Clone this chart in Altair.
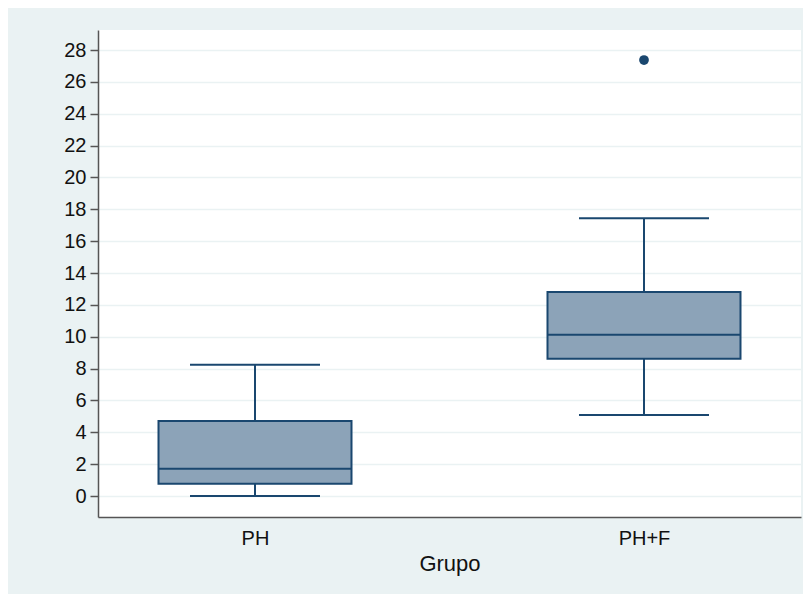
import altair as alt
import pandas as pd

groups = ["PH", "PH+F"]
lower = [0.0, 5.08]
q1 = [0.77, 8.62]
median = [1.71, 10.13]
q3 = [4.71, 12.80]
upper = [8.24, 17.43]

outlier_group = ["PH+F"]
outlier_value = [27.37]

y_ticks = list(range(0, 29, 2))

df = pd.DataFrame({"Grupo": groups, "lower": lower, "q1": q1,
                   "median": median, "q3": q3, "upper": upper})
df_out = pd.DataFrame({"Grupo": outlier_group, "value": outlier_value})

NAVY = "#1a476f"
FILL = "#8ca3b8"
BG = "#eaf2f3"
FONT = "Liberation Sans"

xscale = alt.Scale(type="point", domain=groups, padding=0.4036)
yscale = alt.Scale(domain=[-1.318, 29.256], nice=False, zero=False)

x_enc = alt.X("Grupo:N", scale=xscale, title="Grupo",
              axis=alt.Axis(labelAngle=0, ticks=False, grid=False,
                            labelFontSize=20, labelPadding=11,
                            titleFontSize=22, titleFontWeight="normal",
                            titlePadding=5, titleColor="#111111",
                            labelColor="#111111", domainColor="#555555",
                            domainWidth=1.5, labelFont=FONT, titleFont=FONT))
y_axis = alt.Axis(values=y_ticks, title=None, grid=True, gridColor=BG,
                  gridWidth=1.5, tickSize=8, tickColor="#555555",
                  tickWidth=1.5, domainColor="#555555", domainWidth=1.5,
                  labelFontSize=20, labelPadding=4, labelColor="#111111",
                  labelFont=FONT)

base = alt.Chart(df)

whisker = base.mark_rule(color=NAVY, strokeWidth=2).encode(
    x=x_enc,
    y=alt.Y("lower:Q", scale=yscale, axis=y_axis),
    y2="upper:Q",
)

box = base.mark_bar(size=193, fill=FILL, stroke=NAVY, strokeWidth=2, opacity=1).encode(
    x=x_enc,
    y=alt.Y("q1:Q", scale=yscale, axis=y_axis),
    y2="q3:Q",
)

med = base.mark_tick(size=193, thickness=2, color=NAVY, opacity=1).encode(
    x=x_enc,
    y=alt.Y("median:Q", scale=yscale, axis=y_axis),
)

cap_lo = base.mark_tick(size=130, thickness=2, color=NAVY, opacity=1).encode(
    x=x_enc,
    y=alt.Y("lower:Q", scale=yscale, axis=y_axis),
)
cap_hi = base.mark_tick(size=130, thickness=2, color=NAVY, opacity=1).encode(
    x=x_enc,
    y=alt.Y("upper:Q", scale=yscale, axis=y_axis),
)

out = alt.Chart(df_out).mark_circle(size=95, color=NAVY, opacity=1).encode(
    x=x_enc,
    y=alt.Y("value:Q", scale=yscale, axis=y_axis),
)

chart = alt.layer(whisker, box, med, cap_lo, cap_hi, out).properties(
    width=703, height=487,
    autosize=alt.AutoSizeParams(type="none"),
    padding={"left": 90, "top": 22, "right": 2, "bottom": 77},
    background=BG,
).configure_view(fill="white", stroke=None)

chart.save("out.html", embed_options={"renderer": "svg", "actions": False})
